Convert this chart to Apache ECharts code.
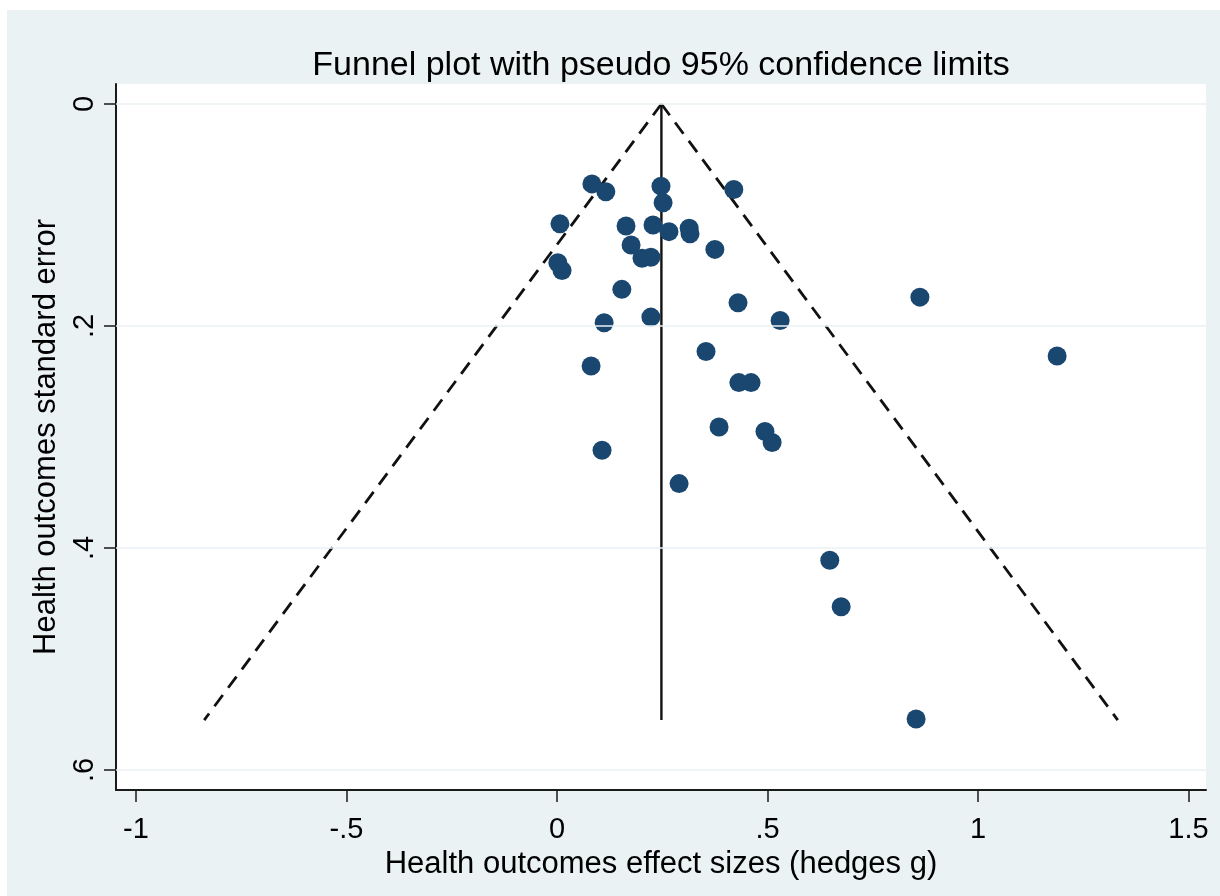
<!DOCTYPE html>
<html>
<head>
<meta charset="utf-8">
<title>Funnel plot</title>
<script src="https://cdn.jsdelivr.net/npm/echarts@6/dist/echarts.min.js"></script>
<style>
  html, body { margin: 0; padding: 0; background: #ffffff; }
  #chart { position: absolute; left: 7px; top: 10px; width: 1213px; height: 886px; }
</style>
</head>
<body>
<div id="chart"></div>
<script>
// Study-level effect sizes (Hedges g) and their standard errors
const effectSizes = [
  0.083, 0.116, 0.247, 0.252, 0.420, 0.007, 0.164, 0.228, 0.266, 0.314,
  0.316, 0.176, 0.375, 0.202, 0.223, 0.002, 0.012, 0.154, 0.430, 0.862,
  0.223, 0.112, 0.530, 0.354, 1.188, 0.081, 0.432, 0.461, 0.385, 0.494,
  0.511, 0.107, 0.290, 0.648, 0.675, 0.853
];
const standardErrors = [
  0.072, 0.079, 0.074, 0.089, 0.077, 0.108, 0.110, 0.109, 0.115, 0.112,
  0.117, 0.127, 0.131, 0.139, 0.138, 0.143, 0.150, 0.167, 0.179, 0.174,
  0.192, 0.197, 0.195, 0.223, 0.227, 0.236, 0.251, 0.251, 0.291, 0.295,
  0.305, 0.312, 0.342, 0.411, 0.453, 0.554
];

// Pooled estimate line and pseudo 95% confidence limits
const pooledLine = [[0.248, 0], [0.248, 0.555]];
const lowerLimit = [[0.248, 0], [-0.838, 0.555]];
const upperLimit = [[0.248, 0], [1.332, 0.555]];

// Axis ticks
const xTicks = [-1, -0.5, 0, 0.5, 1, 1.5];
const yTicks = [0, 0.2, 0.4, 0.6];

const FONT = 'Liberation Sans, Arial, Helvetica, sans-serif';
const NAVY = '#1a476f';

function stataNum(v) {
  const r = Math.round(v * 1000) / 1000;
  if (r === 0) return '0';
  return String(r).replace(/^(-?)0\./, '$1.');
}

const points = effectSizes.map((x, i) => [x, standardErrors[i]]);

const chart = echarts.init(document.getElementById('chart'), null, { renderer: 'canvas' });

chart.setOption({
  backgroundColor: '#eaf2f3',
  animation: false,
  title: {
    text: 'Funnel plot with pseudo 95% confidence limits',
    left: 654,
    top: 39,
    padding: 0,
    textAlign: 'center',
    textStyle: { fontFamily: FONT, fontSize: 34, fontWeight: 'normal', color: '#000' }
  },
  grid: {
    left: 109, top: 74, right: 14, bottom: 106,
    show: true, backgroundColor: '#ffffff', borderWidth: 0
  },
  xAxis: {
    type: 'value',
    min: -1.0475, max: 1.5416,
    name: 'Health outcomes effect sizes (hedges g)',
    nameLocation: 'middle',
    nameGap: 58,
    nameTextStyle: { fontFamily: FONT, fontSize: 31, color: '#000' },
    axisLine: { show: true, onZero: false, lineStyle: { color: '#1a1a1a', width: 2 } },
    axisTick: { show: true, customValues: xTicks, length: 12, lineStyle: { color: '#1a1a1a', width: 1.5 } },
    axisLabel: {
      customValues: xTicks, margin: 25,
      fontFamily: FONT, fontSize: 29, color: '#000',
      formatter: stataNum
    },
    splitLine: { show: false }
  },
  yAxis: {
    type: 'value',
    inverse: true,
    min: -0.018, max: 0.618,
    name: 'Health outcomes standard error',
    nameLocation: 'middle',
    nameRotate: 90,
    nameGap: 50,
    nameTextStyle: { fontFamily: FONT, fontSize: 31, color: '#000' },
    axisLine: { show: true, onZero: false, lineStyle: { color: '#1a1a1a', width: 2 } },
    axisTick: { show: true, customValues: yTicks, length: 12, lineStyle: { color: '#1a1a1a', width: 1.5 } },
    axisLabel: {
      customValues: yTicks, margin: 17, rotate: 90,
      fontFamily: FONT, fontSize: 29, color: '#000',
      formatter: stataNum
    },
    splitLine: { show: false }
  },
  series: [
    {
      // horizontal grid lines at the labelled ticks
      type: 'line',
      data: [],
      silent: true,
      z: 1,
      markLine: {
        silent: true,
        symbol: ['none', 'none'],
        label: { show: false },
        lineStyle: { color: '#eaf2f3', width: 1.5, type: 'solid' },
        data: yTicks.map(v => ({ yAxis: v }))
      }
    },
    {
      type: 'line', data: lowerLimit, z: 2, symbol: 'none', silent: true,
      lineStyle: { color: '#111', width: 2.8, type: [14, 9] }
    },
    {
      type: 'line', data: upperLimit, z: 2, symbol: 'none', silent: true,
      lineStyle: { color: '#111', width: 2.8, type: [14, 9] }
    },
    {
      type: 'line', data: pooledLine, z: 2, symbol: 'none', silent: true,
      lineStyle: { color: '#111', width: 2.4, type: 'solid' }
    },
    {
      type: 'scatter', data: points, z: 3,
      symbol: 'circle', symbolSize: 19,
      itemStyle: { color: NAVY, opacity: 1 }
    }
  ]
});
</script>
</body>
</html>
